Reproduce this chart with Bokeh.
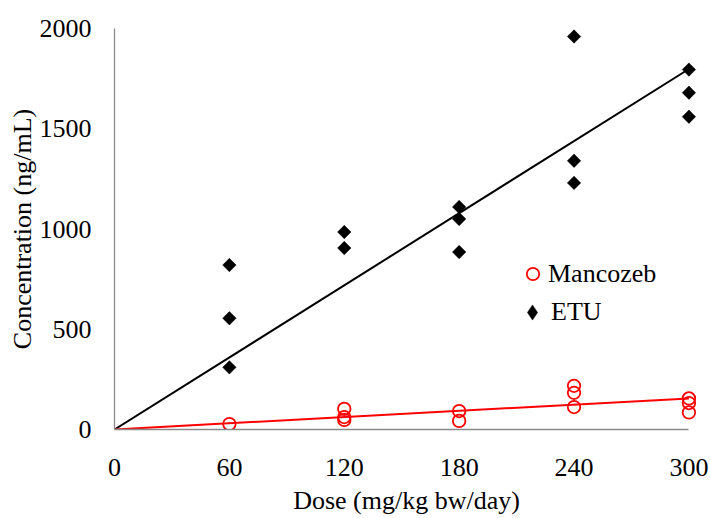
import numpy as np
from bokeh.plotting import figure
from bokeh.models import Range1d, FixedTicker, Legend, LegendItem
from bokeh.embed import file_html
from bokeh.resources import INLINE

# Data
etu_dose = [60, 60, 60, 120, 120, 180, 180, 180, 240, 240, 240, 300, 300, 300]
etu_conc = [820, 555, 310, 985, 905, 1110, 1050, 885, 1960, 1340, 1230, 1795, 1680, 1560]
man_dose = [60, 120, 120, 120, 180, 180, 240, 240, 240, 300, 300, 300]
man_conc = [27, 103, 62, 48, 92, 43, 218, 183, 112, 155, 132, 85]
x_ticks = [0, 60, 120, 180, 240, 300]
y_ticks = [0, 500, 1000, 1500, 2000]

# Linear trend lines through the origin (least squares)
def slope0(x, y):
    x = np.asarray(x, float); y = np.asarray(y, float)
    return float((x * y).sum() / (x * x).sum())

line_x = [x_ticks[0], x_ticks[-1]]
etu_fit = [slope0(etu_dose, etu_conc) * v for v in line_x]
man_fit = [slope0(man_dose, man_conc) * v for v in line_x]

FONT = "Liberation Serif"
AXIS_GRAY = "#8a8a8a"

p = figure(width=710, height=518, output_backend="svg", toolbar_location=None,
           x_range=Range1d(0, 305), y_range=Range1d(0, 2000),
           min_border_left=114, min_border_top=28, min_border_right=12, min_border_bottom=89)
p.outline_line_color = None
p.grid.grid_line_color = None
p.background_fill_color = "white"

p.line(line_x, etu_fit, line_color="black", line_width=2)
p.line(line_x, man_fit, line_color="#ff0000", line_width=2)

# diamond-shaped markers for the legend entry (hidden under the rotated squares)
r_etu_key = p.scatter(etu_dose, etu_conc, marker="diamond", size=12,
                      fill_color="black", line_color="black", line_width=0.5)
r_etu = p.scatter(etu_dose, etu_conc, marker="square", angle=np.pi / 4, size=9.5,
                  fill_color="black", line_color="black", line_width=0.5)
r_man = p.scatter(man_dose, man_conc, marker="circle", size=12.5,
                  fill_color=None, line_color="#ff0000", line_width=1.8)

for ax in (p.xaxis[0], p.yaxis[0]):
    ax.axis_line_color = AXIS_GRAY
    ax.axis_line_width = 1.3
    ax.major_tick_line_color = None
    ax.minor_tick_line_color = None
    ax.major_label_text_font = FONT
    ax.major_label_text_font_size = "26px"
    ax.major_label_text_color = "black"
    ax.axis_label_text_font = FONT
    ax.axis_label_text_font_size = "26px"
    ax.axis_label_text_font_style = "normal"
    ax.axis_label_text_color = "black"

p.xaxis.ticker = FixedTicker(ticks=x_ticks)
p.yaxis.ticker = FixedTicker(ticks=y_ticks)
p.xaxis.bounds = (0, 300)
p.xaxis.axis_label = "Dose (mg/kg bw/day)"
p.yaxis.axis_label = "Concentration (ng/mL)"
p.yaxis.major_label_standoff = 17
p.yaxis.axis_label_standoff = 0
p.xaxis.major_label_standoff = 23
p.xaxis.axis_label_standoff = 7

def make_legend(label, renderer, loc, d, standoff):
    lg = Legend(items=[LegendItem(label=label, renderers=[renderer])], location=loc,
                orientation="vertical", padding=0, margin=0, spacing=0,
                glyph_width=d, glyph_height=d, label_standoff=standoff,
                label_text_font=FONT, label_text_font_size="26px", label_text_color="black",
                border_line_color=None, background_fill_alpha=0)
    p.add_layout(lg, "center")

make_legend("Mancozeb", r_man, (403, 140), 31, -1)
make_legend("ETU", r_etu_key, (399, 98), 38, -7)

open("out.html", "w").write(file_html(p, INLINE))
